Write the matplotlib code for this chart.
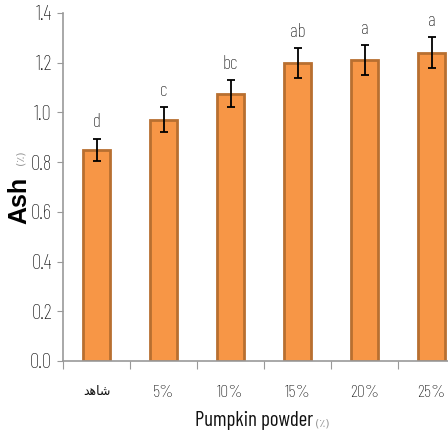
import matplotlib
matplotlib.use("Agg")
import matplotlib.pyplot as plt
import numpy as np

# data
categories=["\ufeaa\ufeeb\ufe8e\ufeb7","5%","10%","15%","20%","25%"]  # first one is "شاهد" (control), pre-shaped
ash=[0.85,0.97,1.075,1.20,1.21,1.24]
ash_err=[0.045,0.05,0.054,0.06,0.06,0.062]
letters=["d","c","bc","ab","a","a"]
yticks=[0.0,0.2,0.4,0.6,0.8,1.0,1.2,1.4]

narrow=['Barlow Condensed','DejaVu Sans']

fig=plt.figure(figsize=(4.48,4.37),dpi=100)
ax=fig.add_axes([63/448,1-361/437,402/448,348/437])

x=np.arange(len(ash))
ax.bar(x,ash,width=0.4,color='#F79646',edgecolor='#B86F30',linewidth=2,zorder=2)
ax.errorbar(x,ash,yerr=ash_err,fmt='none',ecolor='k',elinewidth=1.3,capsize=3,capthick=1.3,zorder=3)
for xi,v,e,l in zip(x,ash,ash_err,letters):
    ax.text(xi,v+e+0.065,l,ha='center',va='center',fontsize=14,fontweight='light',family=narrow,color='#111111')

ax.set_xlim(-0.5,len(ash)-0.5)
ax.set_ylim(0,1.4)
ax.set_yticks(yticks)
ax.set_yticklabels(["%.1f"%t for t in yticks],family=narrow,fontweight='light',fontsize=15,color='#111111')
ax.set_xticks(np.arange(len(ash)+1)-0.5)
ax.set_xticklabels([])
ax.set_xticks(x,minor=True)
ax.set_xticklabels(categories,minor=True,family=narrow,fontweight='light',fontsize=13,color='#111111')
# arabic "control" label: DejaVu Sans regular has the presentation forms
lab0=ax.get_xticklabels(minor=True)[0]
lab0.set_fontsize(9)
lab0.set_fontweight('normal')
lab0.set_family(['DejaVu Sans'])
ax.tick_params(axis='x',which='major',length=6,color='#999999',direction='out')
ax.tick_params(axis='x',which='minor',length=0,pad=17)
ax.tick_params(axis='y',length=4,color='#999999',direction='out',pad=4)
for s in ['top','right']:
    ax.spines[s].set_visible(False)
for s in ['left','bottom']:
    ax.spines[s].set_color('#999999')
    ax.spines[s].set_linewidth(1.2)
ax.spines['bottom'].set_zorder(4)

# axis titles, with the small grey arabic percent sign
fig.text(19/448,1-200/437,"Ash",rotation=90,ha='center',va='center',fontsize=18,fontweight='heavy',family=['Liberation Sans','DejaVu Sans'])
fig.text(20/448,1-158/437,"(\u066a)",rotation=90,ha='center',va='center',fontsize=8,color='#999999',family=['DejaVu Sans'])
fig.text(313/448,1-421/437,"Pumpkin powder",ha='right',va='center',fontsize=15,family=narrow,color='#111111')
fig.text(315/448,1-424/437,"(\u066a)",ha='left',va='center',fontsize=8,color='#999999',family=['DejaVu Sans'])

plt.savefig("out.png",dpi=100,facecolor='white')
plt.close()
